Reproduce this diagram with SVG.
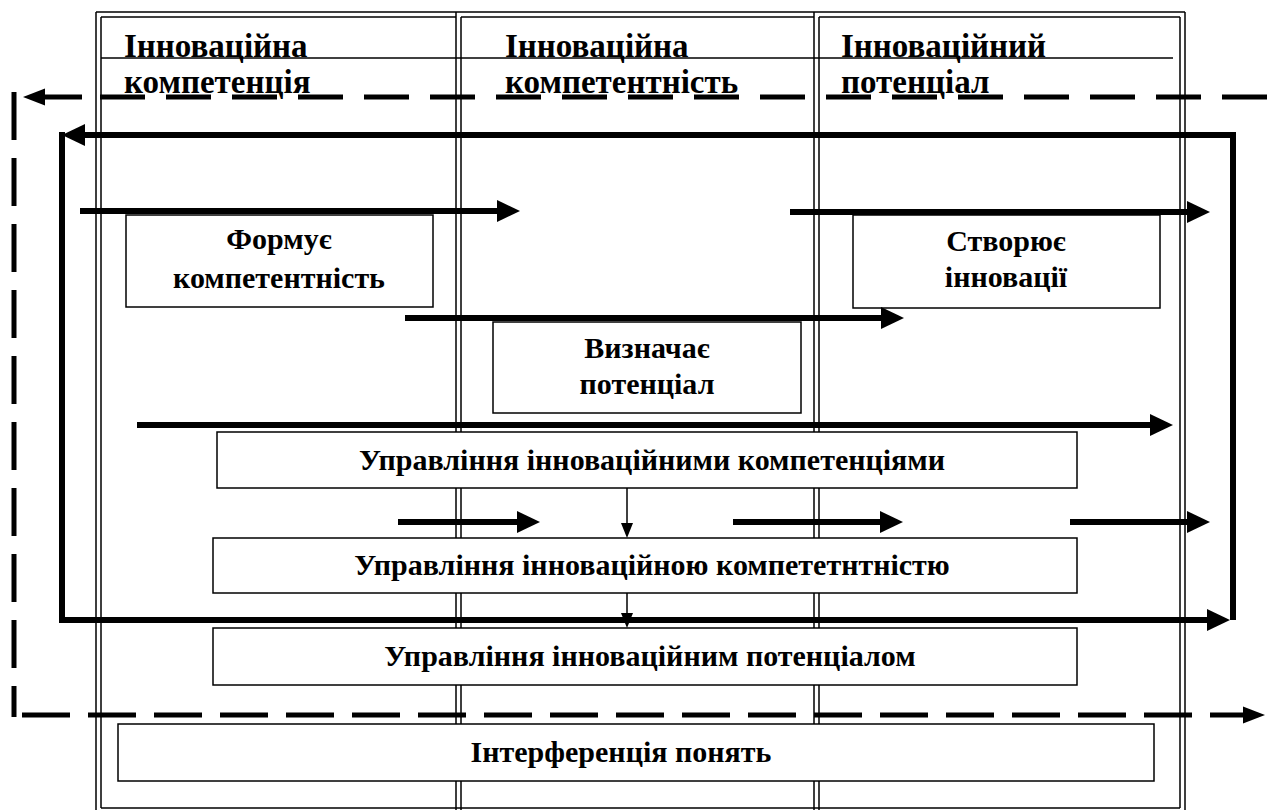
<svg xmlns="http://www.w3.org/2000/svg" width="1267" height="810" viewBox="0 0 1267 810">
<style>
.frame{fill:none;stroke:#000;stroke-width:1.5}
.box{fill:#fff;stroke:#000;stroke-width:1.5}
.t{font-family:"Liberation Serif","Times New Roman",serif;font-weight:bold;font-size:30px;fill:#000;text-anchor:middle}
.h{font-family:"Liberation Serif","Times New Roman",serif;font-weight:bold;font-size:33px;fill:#000}
.thick{fill:none;stroke:#000;stroke-width:6;stroke-linejoin:miter}
.dash{fill:none;stroke:#000;stroke-width:5}
.thin{fill:none;stroke:#000;stroke-width:1.5}
</style>
<defs>
<marker id="big" viewBox="0 -12 24 24" refX="0" refY="0" markerWidth="24" markerHeight="24" markerUnits="userSpaceOnUse" orient="auto"><path d="M0,-11 L23,0 L0,11 z" fill="#000"/></marker>
<marker id="dh" viewBox="0 -10 24 20" refX="0" refY="0" markerWidth="24" markerHeight="20" markerUnits="userSpaceOnUse" orient="auto"><path d="M0,-8.5 L22,0 L0,8.5 z" fill="#000"/></marker>
<marker id="sm" viewBox="0 -7 16 14" refX="0" refY="0" markerWidth="16" markerHeight="14" markerUnits="userSpaceOnUse" orient="auto"><path d="M0,-6 L15,0 L0,6 z" fill="#000"/></marker>
</defs>
<rect width="1267" height="810" fill="#fff"/>
<g id="frame">
<path class="frame" d="M96,12 H1185 M101,17 H456 M461,17 H814 M819,17 H1180 M96,12 V812 M101,17 V808 M456,12 V812 M461,17 V812 M814,12 V812 M819,17 V812 M1180,17 V808 M1185,12 V812 M101,808 H1180"/>
<path class="frame" d="M101,58 H1173"/>
</g>
<g id="header1"><text class="h" x="124" y="57">Інноваційна</text><text class="h" x="124" y="93">компетенція</text></g>
<g id="header2"><text class="h" x="505" y="57">Інноваційна</text><text class="h" x="505" y="93">компетентність</text></g>
<g id="header3"><text class="h" x="841" y="57">Інноваційний</text><text class="h" x="841" y="93">потенціал</text></g>
<g id="node-formuie"><rect class="box" x="126" y="215" width="307" height="92"/><text class="t" x="279" y="249">Формує</text><text class="t" x="279" y="288">компетентність</text></g>
<g id="node-stvoriuie"><rect class="box" x="853" y="215" width="307" height="93"/><text class="t" x="1006" y="251">Створює</text><text class="t" x="1006" y="287">інновації</text></g>
<g id="node-vyznachaie"><rect class="box" x="493" y="322" width="308" height="91"/><text class="t" x="647" y="358">Визначає</text><text class="t" x="647" y="394">потенціал</text></g>
<g id="node-upr1"><rect class="box" x="217" y="432" width="860" height="56"/><text class="t" x="652" y="470">Управління інноваційними компетенціями</text></g>
<g id="node-upr2"><rect class="box" x="213" y="538" width="864" height="55"/><text class="t" x="652" y="575">Управління інноваційною компететнтністю</text></g>
<g id="node-upr3"><rect class="box" x="213" y="628" width="864" height="57"/><text class="t" x="650" y="666">Управління інноваційним потенціалом</text></g>
<g id="node-interf"><rect class="box" x="118" y="724" width="1036" height="57"/><text class="t" x="621" y="762">Інтерференція понять</text></g>
<g id="connectors">
<path class="dash" d="M1267,97 H100" stroke-dasharray="45 21"/>
<path class="dash" d="M82,97 H45" marker-end="url(#dh)"/>
<path class="dash" d="M14,92 V717" stroke-dasharray="48 18"/>
<path class="dash" d="M22,715 H1243" stroke-dasharray="48 18" marker-end="url(#dh)"/>
<path class="thick" d="M1233,620 V135 H85" marker-end="url(#big)"/>
<path class="thick" d="M62,132 V620 H1207" marker-end="url(#big)"/>
<path class="thick" d="M80,211 H497" marker-end="url(#big)"/>
<path class="thick" d="M790,212 H1187" marker-end="url(#big)"/>
<path class="thick" d="M405,318 H881" marker-end="url(#big)"/>
<path class="thick" d="M137,425 H1150" marker-end="url(#big)"/>
<path class="thick" d="M398,522 H517" marker-end="url(#big)"/>
<path class="thick" d="M733,522 H880" marker-end="url(#big)"/>
<path class="thick" d="M1070,522 H1187" marker-end="url(#big)"/>
<path class="thin" d="M627,488 V523" marker-end="url(#sm)"/>
<path class="thin" d="M627,593 V613" marker-end="url(#sm)"/>
</g>
</svg>
